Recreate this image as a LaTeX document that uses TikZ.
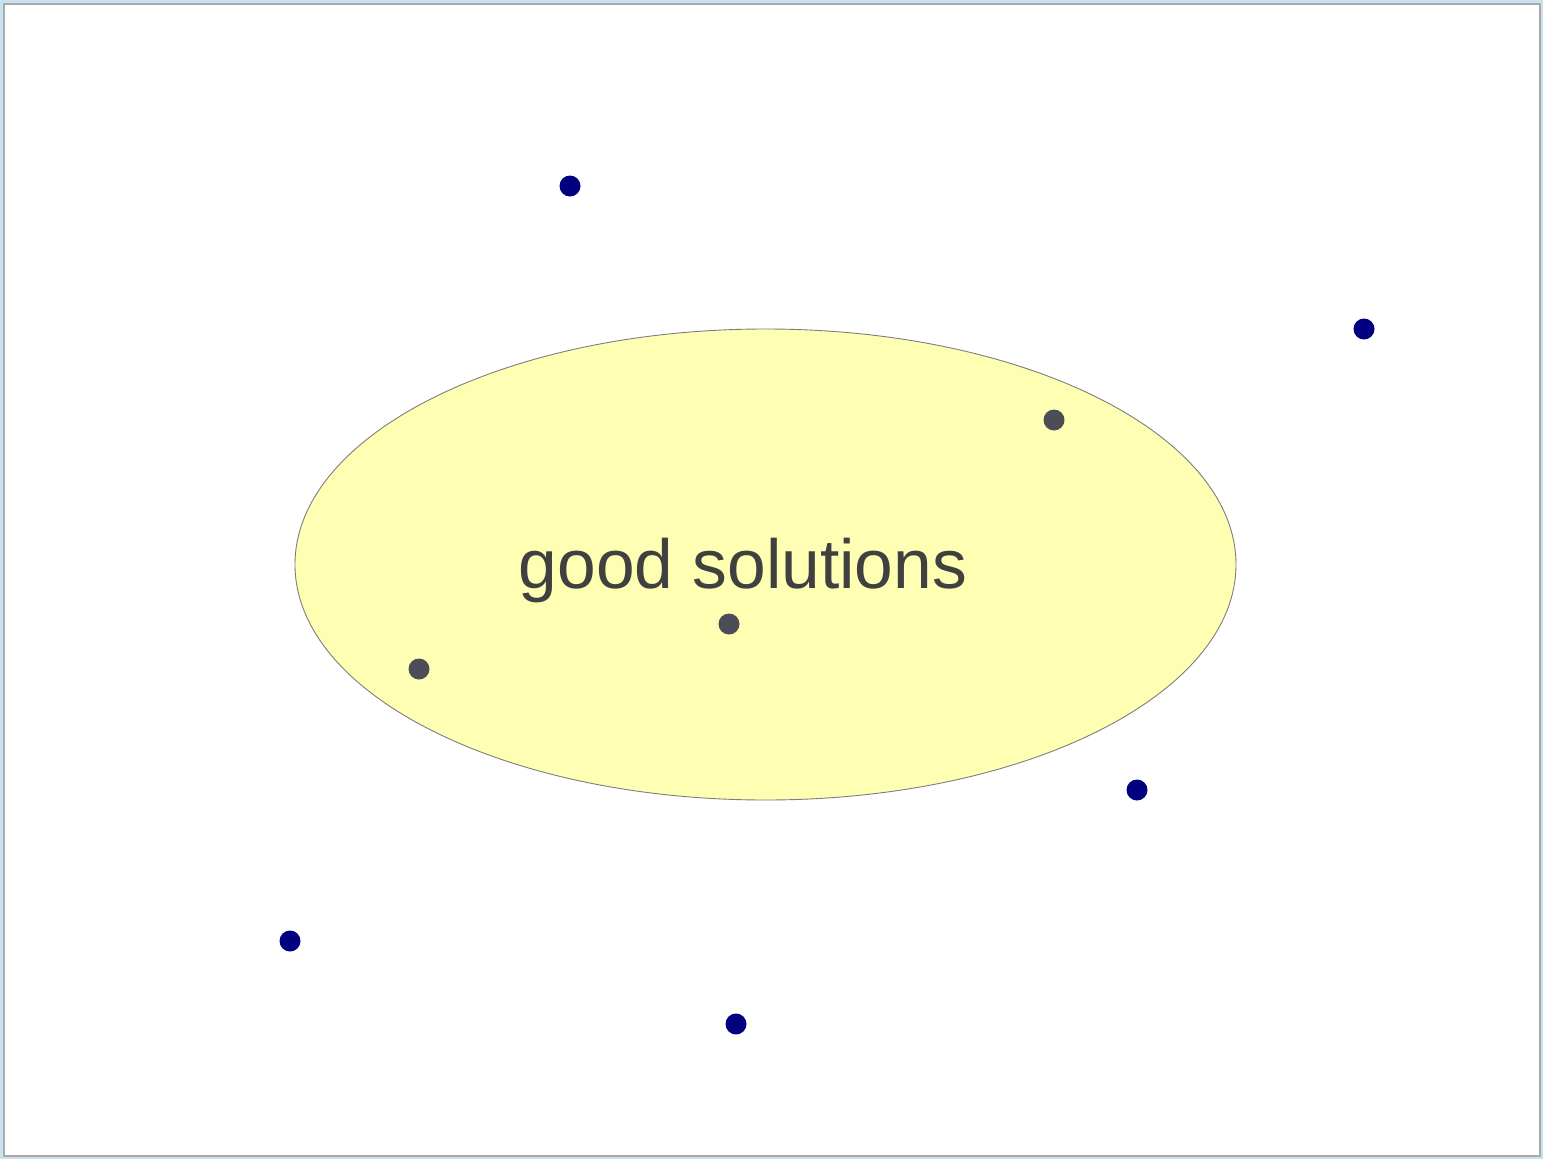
\documentclass[tikz,border=0pt]{standalone}
\usepackage{fontspec}
\setmainfont{Liberation Sans}
\usetikzlibrary{shapes.geometric}

\definecolor{framebg}{RGB}{200,225,240}
\definecolor{framegray}{RGB}{170,170,170}
\definecolor{regionfill}{RGB}{255,255,180}
\definecolor{regionline}{RGB}{125,125,125}
\definecolor{navydot}{RGB}{0,0,128}
\definecolor{graydot}{RGB}{77,77,87}
\definecolor{labeltext}{RGB}{64,64,64}

\begin{document}
\begin{tikzpicture}[
                x=1pt, y=-1pt,
                region/.style={ellipse, draw=regionline, fill=regionfill, line width=0.9pt, inner sep=0pt, minimum width=941pt, minimum height=471pt},
                sol/.style={circle, fill=#1, inner sep=0pt, minimum size=21pt},
                lbl/.style={font=\fontsize{69.5}{82}\selectfont, text=labeltext, inner sep=0pt}
            ]
                % frame
                \fill[framebg] (0,0) rectangle (1543,1159);
                \filldraw[fill=white, draw=framegray, line width=2pt] (4,4) rectangle (1540,1156);
                \useasboundingbox (0,0) rectangle (1543,1159);

                \node[region] (good) at (765.5,564.5) {};
                \node[lbl, anchor=base] (goodlbl) at (743,588) {good solutions};

                % solutions inside
                \node[sol=graydot] (g1) at (1054,420) {};
                \node[sol=graydot] (g2) at (729,624) {};
                \node[sol=graydot] (g3) at (419,669) {};

                % solutions outside
                \node[sol=navydot] (b1) at (570,186) {};
                \node[sol=navydot] (b2) at (1364,329) {};
                \node[sol=navydot] (b3) at (1137,790) {};
                \node[sol=navydot] (b4) at (290,941) {};
                \node[sol=navydot] (b5) at (736,1024) {};
            \end{tikzpicture}
\end{document}
